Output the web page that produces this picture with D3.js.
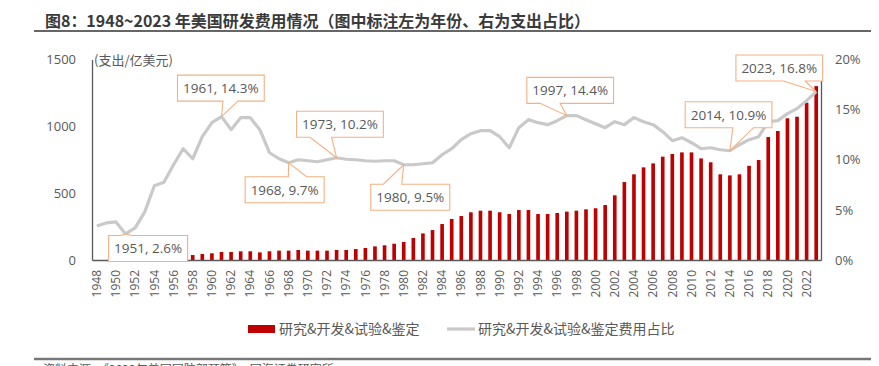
<!DOCTYPE html>
<html><head><meta charset="utf-8">
<script src="https://cdn.jsdelivr.net/npm/d3@7"></script>
<style>
html,body{margin:0;padding:0;background:#fff;}
svg{display:block;}
</style></head>
<body>
<svg id="chart" width="879" height="366"></svg>
<script>
const years = [1948,1949,1950,1951,1952,1953,1954,1955,1956,1957,1958,1959,1960,1961,1962,1963,1964,1965,1966,1967,1968,1969,1970,1971,1972,1973,1974,1975,1976,1977,1978,1979,1980,1981,1982,1983,1984,1985,1986,1987,1988,1989,1990,1991,1992,1993,1994,1995,1996,1997,1998,1999,2000,2001,2002,2003,2004,2005,2006,2007,2008,2009,2010,2011,2012,2013,2014,2015,2016,2017,2018,2019,2020,2021,2022,2023];
// 研究&开发&试验&鉴定 (亿美元)
const spend = [null,null,null,null,null,null,null,null,null,null,37,45,50,60,60,65,65,57,65,70,70,75,70,70,70,75,75,82,90,102,110,122,135,165,199,224,269,307,329,357,369,369,357,344,374,374,344,344,352,362,369,379,387,411,484,583,641,693,723,773,793,805,805,760,731,641,633,641,705,748,920,965,1060,1072,1177,1301];
// 占比 (%)
const share = [3.4,3.7,3.8,2.6,3.2,4.8,7.4,7.75,9.5,11.1,10.1,12.3,13.7,14.3,13.0,14.2,14.2,13.0,10.7,10.1,9.7,10.0,9.9,9.8,10.0,10.2,10.05,10.0,9.9,9.85,9.9,9.9,9.5,9.5,9.6,9.7,10.5,11.1,12.0,12.6,12.9,12.9,12.3,11.2,13.2,14.0,13.7,13.5,13.9,14.4,14.4,14.0,13.6,13.2,13.8,13.5,14.2,13.8,13.5,12.8,11.9,12.2,11.7,11.1,11.2,11.0,10.9,11.5,12.0,12.3,13.8,13.9,14.6,15.1,15.9,16.8];
const leftTicks = [0,500,1000,1500];
const rightTicks = [0,0.05,0.10,0.15,0.20];
const annoYears = [1951,1961,1968,1973,1980,1997,2014,2023];
const annoLabels = ["1951, 2.6%","1961, 14.3%","1968, 9.7%","1973, 10.2%","1980, 9.5%","1997, 14.4%","2014, 10.9%","2023, 16.8%"];
// callout layout: box offset from the point [dx, dy, side, wedgeA, wedgeB]
const annoLayout = [
  [-17, 1.5, "top", -4, 6],
  [-44, -41.5, "bottom", 1.5, 16.5],
  [-43.5, 14, "top", -0.3, 18],
  [-40, -46.5, "bottom", -26.5, -5],
  [-33, 19.5, "top", -20.4, -2],
  [-40, -38.3, "bottom", -26.7, -6.7],
  [-44.7, -49, "bottom", 3, 23.6],
  [-80.3, -36.6, "bottom", -32.7, -11]
];

const svg = d3.select("#chart");
const L = 92, R = 821, T = 59.5, B = 260;
const gray = "#595959";
const numFont = "'Open Sans','Noto Sans CJK SC',sans-serif";
const cjkFont = "'Noto Sans CJK SC','Open Sans',sans-serif";

// Title
svg.append("text").attr("x",45).attr("y",27)
  .attr("font-family",cjkFont).attr("font-weight","bold").attr("font-size",16)
  .attr("fill","#3a3a3a").attr("textLength",545).attr("lengthAdjust","spacingAndGlyphs")
  .text("图8：1948~2023 年美国研发费用情况（图中标注左为年份、右为支出占比）");
svg.append("line").attr("x1",34).attr("x2",871).attr("y1",31).attr("y2",31)
  .attr("stroke","#666").attr("stroke-width",2);

const x = d3.scaleBand().domain(years).range([L,R]).paddingInner(0.62).paddingOuter(0.31);
const yL = d3.scaleLinear().domain([0,1500]).range([B,T]);
const yR = d3.scaleLinear().domain([0,0.20]).range([B,T]);
const cx = yr => x(yr) + x.bandwidth()/2;

// bars
const barData = years.map((y,i)=>({y, v: spend[i]})).filter(d=>d.v!=null);
svg.append("g").selectAll("rect").data(barData).join("rect")
  .attr("x", d=>x(d.y)).attr("width", x.bandwidth())
  .attr("y", d=>yL(d.v)).attr("height", d=>B - yL(d.v))
  .attr("fill","#C00000");

// axes
const gx = svg.append("g").attr("transform",`translate(0,${B})`)
  .call(d3.axisBottom(x).tickValues(years.filter(y=>y%2===0)).tickSize(0).tickSizeOuter(0));
gx.select(".domain").attr("stroke",gray).attr("stroke-width",1.3);
gx.selectAll("text").attr("font-family",numFont).attr("font-size",12).attr("fill",gray)
  .attr("transform","rotate(-90)").attr("x",-10).attr("y",0).attr("dy","0.35em")
  .style("text-anchor","end");

const gl = svg.append("g").attr("transform",`translate(${L},0)`)
  .call(d3.axisLeft(yL).tickValues(leftTicks).tickFormat(d3.format("d")).tickSize(0).tickSizeOuter(0).tickPadding(16));
gl.select(".domain").attr("stroke",gray).attr("stroke-width",1.3);
gl.selectAll("text").attr("font-family",numFont).attr("font-size",13).attr("fill",gray);

const gr = svg.append("g").attr("transform",`translate(${R},0)`)
  .call(d3.axisRight(yR).tickValues(rightTicks).tickFormat(d3.format(".0%")).tickSize(0).tickSizeOuter(0).tickPadding(14));
gr.select(".domain").attr("stroke",gray).attr("stroke-width",1.3);
gr.selectAll("text").attr("font-family",numFont).attr("font-size",13).attr("fill",gray);

svg.append("text").attr("x",94).attr("y",65).attr("font-family",cjkFont).attr("font-size",13)
  .attr("fill",gray).text("(支出/亿美元)");

// line
const lineData = years.map((y,i)=>({y, v: share[i]/100}));
svg.append("path").datum(lineData)
  .attr("fill","none").attr("stroke","#C9C9C9").attr("stroke-width",3.2).attr("stroke-linejoin","round")
  .attr("d", d3.line().x(d=>cx(d.y)).y(d=>yR(d.v)));

// callouts
annoYears.forEach((yr,i)=>{
  const idx = years.indexOf(yr);
  const px = cx(yr), py = yR(share[idx]/100);
  const [dx,dy,side,wa,wb] = annoLayout[i];
  const g = svg.append("g");
  const path = g.append("path");
  const t = g.append("text").attr("font-family",numFont).attr("font-size",13.5).attr("fill",gray)
    .attr("text-anchor","middle").text(annoLabels[i]);
  const tw = t.node().getComputedTextLength();
  const w = tw + 11, h = 26;
  const l = px + dx, tp = py + dy, r = l + w, b = tp + h;
  t.attr("x", l + w/2).attr("y", tp + h/2).attr("dy","0.36em");
  let d;
  if (side === "bottom") {
    d = `M${l},${tp}H${r}V${b}H${px+wb}L${px},${py}L${px+wa},${b}H${l}Z`;
  } else {
    d = `M${l},${tp}H${px+wa}L${px},${py}L${px+wb},${tp}H${r}V${b}H${l}Z`;
  }
  path.attr("d", d).attr("fill","#fff").attr("stroke","#F4B183").attr("stroke-width",1.1);
});

// legend
svg.append("rect").attr("x",248).attr("y",325).attr("width",27).attr("height",8).attr("fill","#C00000");
svg.append("text").attr("x",279).attr("y",329).attr("dy","0.36em").attr("font-family",cjkFont)
  .attr("font-size",14).attr("fill",gray).text("研究&开发&试验&鉴定");
svg.append("line").attr("x1",447).attr("x2",475).attr("y1",329).attr("y2",329)
  .attr("stroke","#C9C9C9").attr("stroke-width",3.2);
svg.append("text").attr("x",478).attr("y",329).attr("dy","0.36em").attr("font-family",cjkFont)
  .attr("font-size",14).attr("fill",gray).text("研究&开发&试验&鉴定费用占比");

// bottom rule + source
svg.append("line").attr("x1",34).attr("x2",871).attr("y1",359).attr("y2",359)
  .attr("stroke","#777").attr("stroke-width",2.5);
svg.append("text").attr("x",43).attr("y",374).attr("font-family",cjkFont).attr("font-size",12)
  .attr("fill",gray).text("资料来源：《2023年美国国防部预算》，国海证券研究所");
</script>
</body></html>
